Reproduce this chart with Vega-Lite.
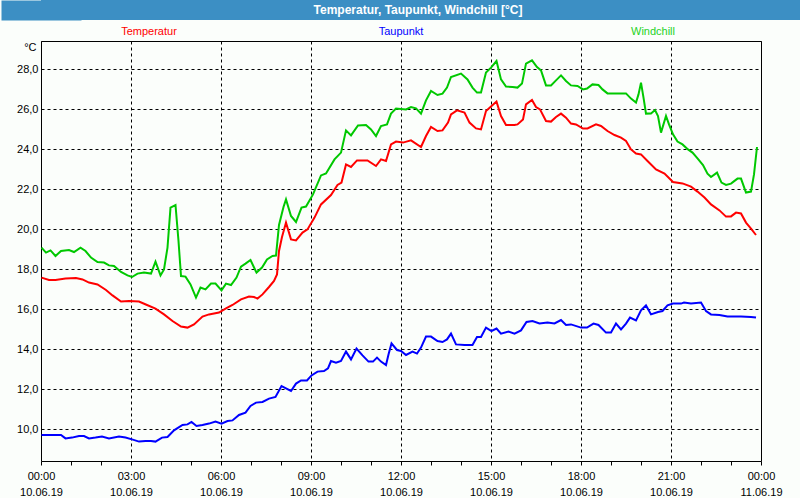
{
  "$schema": "https://vega.github.io/schema/vega-lite/v6.json",
  "padding": 0,
  "background": "#fbfefb",
  "spacing": 0,
  "config": {"font": "Liberation Sans"},
  "datasets": {
    "temperatur": [
      {"t":"2019-06-10T00:01","v":17.57},{"t":"2019-06-10T00:16","v":17.45},{"t":"2019-06-10T00:29","v":17.45},{"t":"2019-06-10T00:49","v":17.53},
      {"t":"2019-06-10T01:10","v":17.55},{"t":"2019-06-10T01:23","v":17.48},{"t":"2019-06-10T01:36","v":17.32},{"t":"2019-06-10T01:53","v":17.23},
      {"t":"2019-06-10T02:10","v":16.95},{"t":"2019-06-10T02:23","v":16.68},{"t":"2019-06-10T02:40","v":16.37},{"t":"2019-06-10T02:56","v":16.4},
      {"t":"2019-06-10T03:16","v":16.37},{"t":"2019-06-10T03:32","v":16.2},{"t":"2019-06-10T03:49","v":16.02},{"t":"2019-06-10T04:06","v":15.73},
      {"t":"2019-06-10T04:23","v":15.4},{"t":"2019-06-10T04:40","v":15.12},{"t":"2019-06-10T04:53","v":15.07},{"t":"2019-06-10T05:06","v":15.23},
      {"t":"2019-06-10T05:23","v":15.62},{"t":"2019-06-10T05:36","v":15.73},{"t":"2019-06-10T05:56","v":15.82},{"t":"2019-06-10T06:10","v":16.03},
      {"t":"2019-06-10T06:23","v":16.2},{"t":"2019-06-10T06:40","v":16.48},{"t":"2019-06-10T06:56","v":16.62},{"t":"2019-06-10T07:06","v":16.6},
      {"t":"2019-06-10T07:13","v":16.52},{"t":"2019-06-10T07:23","v":16.73},{"t":"2019-06-10T07:36","v":17.1},{"t":"2019-06-10T07:46","v":17.4},
      {"t":"2019-06-10T07:52","v":17.73},{"t":"2019-06-10T07:56","v":18.9},{"t":"2019-06-10T08:02","v":19.6},{"t":"2019-06-10T08:10","v":20.32},
      {"t":"2019-06-10T08:20","v":19.48},{"t":"2019-06-10T08:30","v":19.43},{"t":"2019-06-10T08:43","v":19.82},{"t":"2019-06-10T08:53","v":19.98},
      {"t":"2019-06-10T09:07","v":20.57},{"t":"2019-06-10T09:20","v":21.23},{"t":"2019-06-10T09:40","v":21.7},{"t":"2019-06-10T09:53","v":22.2},
      {"t":"2019-06-10T10:01","v":22.32},{"t":"2019-06-10T10:10","v":23.23},{"t":"2019-06-10T10:20","v":23.1},{"t":"2019-06-10T10:32","v":23.43},
      {"t":"2019-06-10T10:53","v":23.43},{"t":"2019-06-10T11:10","v":23.15},{"t":"2019-06-10T11:20","v":23.48},{"t":"2019-06-10T11:30","v":23.4},
      {"t":"2019-06-10T11:40","v":24.23},{"t":"2019-06-10T11:50","v":24.37},{"t":"2019-06-10T12:04","v":24.32},{"t":"2019-06-10T12:20","v":24.43},
      {"t":"2019-06-10T12:40","v":24.1},{"t":"2019-06-10T12:50","v":24.65},{"t":"2019-06-10T13:00","v":25.1},{"t":"2019-06-10T13:13","v":24.9},
      {"t":"2019-06-10T13:23","v":24.93},{"t":"2019-06-10T13:34","v":25.32},{"t":"2019-06-10T13:40","v":25.73},{"t":"2019-06-10T13:52","v":25.93},
      {"t":"2019-06-10T14:07","v":25.82},{"t":"2019-06-10T14:17","v":25.32},{"t":"2019-06-10T14:30","v":25.03},{"t":"2019-06-10T14:40","v":24.98},
      {"t":"2019-06-10T14:50","v":25.9},{"t":"2019-06-10T15:00","v":26.12},{"t":"2019-06-10T15:11","v":26.37},{"t":"2019-06-10T15:20","v":25.65},
      {"t":"2019-06-10T15:30","v":25.2},{"t":"2019-06-10T15:47","v":25.2},{"t":"2019-06-10T15:53","v":25.23},{"t":"2019-06-10T16:04","v":25.48},
      {"t":"2019-06-10T16:10","v":26.23},{"t":"2019-06-10T16:22","v":26.45},{"t":"2019-06-10T16:30","v":26.1},{"t":"2019-06-10T16:38","v":25.98},
      {"t":"2019-06-10T16:50","v":25.4},{"t":"2019-06-10T17:00","v":25.37},{"t":"2019-06-10T17:10","v":25.6},{"t":"2019-06-10T17:20","v":25.77},
      {"t":"2019-06-10T17:30","v":25.57},{"t":"2019-06-10T17:40","v":25.27},{"t":"2019-06-10T17:50","v":25.23},{"t":"2019-06-10T18:04","v":25.02},
      {"t":"2019-06-10T18:13","v":25.03},{"t":"2019-06-10T18:30","v":25.23},{"t":"2019-06-10T18:40","v":25.15},{"t":"2019-06-10T18:53","v":24.9},
      {"t":"2019-06-10T19:07","v":24.7},{"t":"2019-06-10T19:20","v":24.57},{"t":"2019-06-10T19:30","v":24.4},{"t":"2019-06-10T19:40","v":23.98},
      {"t":"2019-06-10T19:50","v":23.77},{"t":"2019-06-10T20:00","v":23.73},{"t":"2019-06-10T20:13","v":23.4},{"t":"2019-06-10T20:30","v":22.98},
      {"t":"2019-06-10T20:47","v":22.77},{"t":"2019-06-10T21:04","v":22.35},{"t":"2019-06-10T21:23","v":22.28},{"t":"2019-06-10T21:40","v":22.12},
      {"t":"2019-06-10T21:53","v":21.87},{"t":"2019-06-10T22:07","v":21.57},{"t":"2019-06-10T22:20","v":21.23},{"t":"2019-06-10T22:37","v":20.93},
      {"t":"2019-06-10T22:50","v":20.62},{"t":"2019-06-10T23:00","v":20.63},{"t":"2019-06-10T23:10","v":20.82},{"t":"2019-06-10T23:20","v":20.78},
      {"t":"2019-06-10T23:30","v":20.32},{"t":"2019-06-10T23:40","v":20.02},{"t":"2019-06-10T23:50","v":19.7}
    ],
    "windchill": [
      {"t":"2019-06-10T00:01","v":19.07},{"t":"2019-06-10T00:10","v":18.82},{"t":"2019-06-10T00:19","v":18.93},{"t":"2019-06-10T00:29","v":18.65},
      {"t":"2019-06-10T00:40","v":18.9},{"t":"2019-06-10T00:56","v":18.95},{"t":"2019-06-10T01:06","v":18.85},{"t":"2019-06-10T01:19","v":19.07},
      {"t":"2019-06-10T01:29","v":18.9},{"t":"2019-06-10T01:40","v":18.57},{"t":"2019-06-10T01:53","v":18.35},{"t":"2019-06-10T02:06","v":18.32},
      {"t":"2019-06-10T02:16","v":18.18},{"t":"2019-06-10T02:26","v":18.15},{"t":"2019-06-10T02:40","v":17.85},{"t":"2019-06-10T02:53","v":17.68},
      {"t":"2019-06-10T03:02","v":17.6},{"t":"2019-06-10T03:13","v":17.77},{"t":"2019-06-10T03:26","v":17.82},{"t":"2019-06-10T03:40","v":17.77},
      {"t":"2019-06-10T03:49","v":18.37},{"t":"2019-06-10T03:59","v":17.68},{"t":"2019-06-10T04:06","v":17.98},{"t":"2019-06-10T04:13","v":19.07},
      {"t":"2019-06-10T04:19","v":21.07},{"t":"2019-06-10T04:29","v":21.2},{"t":"2019-06-10T04:35","v":19.4},{"t":"2019-06-10T04:40","v":17.65},
      {"t":"2019-06-10T04:49","v":17.62},{"t":"2019-06-10T04:59","v":17.23},{"t":"2019-06-10T05:10","v":16.57},{"t":"2019-06-10T05:19","v":17.07},
      {"t":"2019-06-10T05:29","v":16.98},{"t":"2019-06-10T05:40","v":17.27},{"t":"2019-06-10T05:49","v":17.27},{"t":"2019-06-10T06:01","v":16.93},
      {"t":"2019-06-10T06:10","v":17.27},{"t":"2019-06-10T06:20","v":17.2},{"t":"2019-06-10T06:31","v":17.57},{"t":"2019-06-10T06:40","v":18.12},
      {"t":"2019-06-10T06:49","v":18.27},{"t":"2019-06-10T06:59","v":18.45},{"t":"2019-06-10T07:11","v":17.82},{"t":"2019-06-10T07:22","v":18.07},
      {"t":"2019-06-10T07:32","v":18.48},{"t":"2019-06-10T07:43","v":18.65},{"t":"2019-06-10T07:50","v":18.67},{"t":"2019-06-10T07:56","v":20.2},
      {"t":"2019-06-10T08:05","v":21.1},{"t":"2019-06-10T08:10","v":21.48},{"t":"2019-06-10T08:20","v":20.65},{"t":"2019-06-10T08:30","v":20.35},
      {"t":"2019-06-10T08:41","v":21.07},{"t":"2019-06-10T08:50","v":21.12},{"t":"2019-06-10T09:04","v":21.73},{"t":"2019-06-10T09:20","v":22.68},
      {"t":"2019-06-10T09:30","v":22.78},{"t":"2019-06-10T09:47","v":23.48},{"t":"2019-06-10T10:00","v":23.82},{"t":"2019-06-10T10:10","v":24.93},
      {"t":"2019-06-10T10:20","v":24.68},{"t":"2019-06-10T10:34","v":25.18},{"t":"2019-06-10T10:50","v":25.2},{"t":"2019-06-10T11:00","v":24.98},
      {"t":"2019-06-10T11:10","v":24.65},{"t":"2019-06-10T11:20","v":25.15},{"t":"2019-06-10T11:32","v":25.23},{"t":"2019-06-10T11:40","v":25.77},
      {"t":"2019-06-10T11:50","v":26.02},{"t":"2019-06-10T12:10","v":25.98},{"t":"2019-06-10T12:20","v":26.1},{"t":"2019-06-10T12:30","v":26.03},
      {"t":"2019-06-10T12:40","v":25.77},{"t":"2019-06-10T12:50","v":26.43},{"t":"2019-06-10T13:00","v":26.9},{"t":"2019-06-10T13:13","v":26.7},
      {"t":"2019-06-10T13:23","v":26.77},{"t":"2019-06-10T13:32","v":27.07},{"t":"2019-06-10T13:40","v":27.6},{"t":"2019-06-10T14:00","v":27.77},
      {"t":"2019-06-10T14:13","v":27.48},{"t":"2019-06-10T14:23","v":27.07},{"t":"2019-06-10T14:32","v":26.82},{"t":"2019-06-10T14:40","v":26.82},
      {"t":"2019-06-10T14:50","v":27.82},{"t":"2019-06-10T15:00","v":28.07},{"t":"2019-06-10T15:11","v":28.4},{"t":"2019-06-10T15:20","v":27.48},
      {"t":"2019-06-10T15:30","v":27.12},{"t":"2019-06-10T15:43","v":27.1},{"t":"2019-06-10T15:53","v":27.07},{"t":"2019-06-10T16:02","v":27.27},
      {"t":"2019-06-10T16:10","v":28.27},{"t":"2019-06-10T16:22","v":28.43},{"t":"2019-06-10T16:32","v":28.1},{"t":"2019-06-10T16:40","v":27.93},
      {"t":"2019-06-10T16:50","v":27.18},{"t":"2019-06-10T17:00","v":27.18},{"t":"2019-06-10T17:10","v":27.43},{"t":"2019-06-10T17:20","v":27.68},
      {"t":"2019-06-10T17:30","v":27.4},{"t":"2019-06-10T17:40","v":27.18},{"t":"2019-06-10T17:53","v":27.15},{"t":"2019-06-10T18:04","v":26.98},
      {"t":"2019-06-10T18:12","v":27.02},{"t":"2019-06-10T18:23","v":27.23},{"t":"2019-06-10T18:35","v":27.2},{"t":"2019-06-10T18:43","v":26.98},
      {"t":"2019-06-10T18:53","v":26.78},{"t":"2019-06-10T19:13","v":26.78},{"t":"2019-06-10T19:30","v":26.78},{"t":"2019-06-10T19:40","v":26.52},
      {"t":"2019-06-10T19:50","v":26.32},{"t":"2019-06-10T19:55","v":26.73},{"t":"2019-06-10T20:00","v":27.32},{"t":"2019-06-10T20:05","v":26.57},
      {"t":"2019-06-10T20:10","v":25.77},{"t":"2019-06-10T20:20","v":25.78},{"t":"2019-06-10T20:28","v":25.95},{"t":"2019-06-10T20:34","v":25.65},
      {"t":"2019-06-10T20:40","v":24.82},{"t":"2019-06-10T20:50","v":25.65},{"t":"2019-06-10T20:56","v":25.23},{"t":"2019-06-10T21:04","v":24.73},
      {"t":"2019-06-10T21:13","v":24.37},{"t":"2019-06-10T21:23","v":24.23},{"t":"2019-06-10T21:34","v":23.98},{"t":"2019-06-10T21:43","v":23.82},
      {"t":"2019-06-10T21:53","v":23.53},{"t":"2019-06-10T22:04","v":23.2},{"t":"2019-06-10T22:13","v":22.77},{"t":"2019-06-10T22:20","v":22.6},
      {"t":"2019-06-10T22:32","v":22.82},{"t":"2019-06-10T22:41","v":22.32},{"t":"2019-06-10T22:50","v":22.2},{"t":"2019-06-10T23:00","v":22.27},
      {"t":"2019-06-10T23:13","v":22.52},{"t":"2019-06-10T23:20","v":22.52},{"t":"2019-06-10T23:30","v":21.82},{"t":"2019-06-10T23:40","v":21.87},
      {"t":"2019-06-10T23:46","v":22.73},{"t":"2019-06-10T23:52","v":24.1}
    ],
    "taupunkt": [
      {"t":"2019-06-10T00:01","v":9.7},{"t":"2019-06-10T00:40","v":9.7},{"t":"2019-06-10T00:49","v":9.53},{"t":"2019-06-10T01:02","v":9.57},
      {"t":"2019-06-10T01:16","v":9.65},{"t":"2019-06-10T01:26","v":9.65},{"t":"2019-06-10T01:36","v":9.53},{"t":"2019-06-10T01:49","v":9.57},
      {"t":"2019-06-10T02:02","v":9.62},{"t":"2019-06-10T02:16","v":9.53},{"t":"2019-06-10T02:36","v":9.62},{"t":"2019-06-10T02:49","v":9.57},
      {"t":"2019-06-10T03:02","v":9.48},{"t":"2019-06-10T03:16","v":9.37},{"t":"2019-06-10T03:29","v":9.4},{"t":"2019-06-10T03:40","v":9.4},
      {"t":"2019-06-10T03:49","v":9.37},{"t":"2019-06-10T04:02","v":9.57},{"t":"2019-06-10T04:13","v":9.6},{"t":"2019-06-10T04:26","v":9.93},
      {"t":"2019-06-10T04:43","v":10.2},{"t":"2019-06-10T04:53","v":10.23},{"t":"2019-06-10T05:01","v":10.35},{"t":"2019-06-10T05:11","v":10.15},
      {"t":"2019-06-10T05:23","v":10.2},{"t":"2019-06-10T05:36","v":10.27},{"t":"2019-06-10T05:49","v":10.37},{"t":"2019-06-10T06:01","v":10.27},
      {"t":"2019-06-10T06:13","v":10.4},{"t":"2019-06-10T06:23","v":10.43},{"t":"2019-06-10T06:36","v":10.7},{"t":"2019-06-10T06:49","v":10.82},
      {"t":"2019-06-10T06:59","v":11.15},{"t":"2019-06-10T07:10","v":11.32},{"t":"2019-06-10T07:23","v":11.35},{"t":"2019-06-10T07:36","v":11.52},
      {"t":"2019-06-10T07:49","v":11.6},{"t":"2019-06-10T08:01","v":12.15},{"t":"2019-06-10T08:10","v":12.03},{"t":"2019-06-10T08:20","v":11.9},
      {"t":"2019-06-10T08:30","v":12.27},{"t":"2019-06-10T08:40","v":12.43},{"t":"2019-06-10T08:52","v":12.43},{"t":"2019-06-10T09:01","v":12.68},
      {"t":"2019-06-10T09:13","v":12.87},{"t":"2019-06-10T09:26","v":12.9},{"t":"2019-06-10T09:34","v":13.03},{"t":"2019-06-10T09:40","v":13.4},
      {"t":"2019-06-10T09:50","v":13.32},{"t":"2019-06-10T10:00","v":13.4},{"t":"2019-06-10T10:10","v":13.87},{"t":"2019-06-10T10:20","v":13.48},
      {"t":"2019-06-10T10:31","v":14.02},{"t":"2019-06-10T10:43","v":13.68},{"t":"2019-06-10T10:55","v":13.37},{"t":"2019-06-10T11:04","v":13.37},
      {"t":"2019-06-10T11:12","v":13.57},{"t":"2019-06-10T11:20","v":13.37},{"t":"2019-06-10T11:30","v":13.2},{"t":"2019-06-10T11:35","v":13.73},
      {"t":"2019-06-10T11:41","v":14.28},{"t":"2019-06-10T11:52","v":13.95},{"t":"2019-06-10T12:00","v":13.9},{"t":"2019-06-10T12:10","v":13.7},
      {"t":"2019-06-10T12:23","v":13.87},{"t":"2019-06-10T12:32","v":13.77},{"t":"2019-06-10T12:40","v":14.07},{"t":"2019-06-10T12:50","v":14.62},
      {"t":"2019-06-10T13:00","v":14.62},{"t":"2019-06-10T13:13","v":14.4},{"t":"2019-06-10T13:23","v":14.35},{"t":"2019-06-10T13:32","v":14.48},
      {"t":"2019-06-10T13:40","v":14.77},{"t":"2019-06-10T13:50","v":14.23},{"t":"2019-06-10T14:07","v":14.2},{"t":"2019-06-10T14:23","v":14.2},
      {"t":"2019-06-10T14:32","v":14.6},{"t":"2019-06-10T14:40","v":14.6},{"t":"2019-06-10T14:50","v":15.07},{"t":"2019-06-10T15:01","v":14.9},
      {"t":"2019-06-10T15:11","v":15.02},{"t":"2019-06-10T15:20","v":14.77},{"t":"2019-06-10T15:35","v":14.87},{"t":"2019-06-10T15:47","v":14.77},
      {"t":"2019-06-10T16:00","v":14.93},{"t":"2019-06-10T16:11","v":15.35},{"t":"2019-06-10T16:23","v":15.4},{"t":"2019-06-10T16:37","v":15.28},
      {"t":"2019-06-10T16:53","v":15.32},{"t":"2019-06-10T17:07","v":15.28},{"t":"2019-06-10T17:20","v":15.45},{"t":"2019-06-10T17:30","v":15.2},
      {"t":"2019-06-10T17:40","v":15.23},{"t":"2019-06-10T18:00","v":15.07},{"t":"2019-06-10T18:12","v":15.07},{"t":"2019-06-10T18:25","v":15.27},
      {"t":"2019-06-10T18:35","v":15.2},{"t":"2019-06-10T18:50","v":14.82},{"t":"2019-06-10T19:00","v":14.82},{"t":"2019-06-10T19:10","v":15.27},
      {"t":"2019-06-10T19:20","v":14.98},{"t":"2019-06-10T19:30","v":15.27},{"t":"2019-06-10T19:38","v":15.57},{"t":"2019-06-10T19:50","v":15.43},
      {"t":"2019-06-10T20:00","v":15.93},{"t":"2019-06-10T20:10","v":16.18},{"t":"2019-06-10T20:20","v":15.73},{"t":"2019-06-10T20:34","v":15.85},
      {"t":"2019-06-10T20:43","v":15.9},{"t":"2019-06-10T20:53","v":16.18},{"t":"2019-06-10T21:04","v":16.27},{"t":"2019-06-10T21:20","v":16.27},
      {"t":"2019-06-10T21:26","v":16.32},{"t":"2019-06-10T21:40","v":16.27},{"t":"2019-06-10T22:00","v":16.32},{"t":"2019-06-10T22:10","v":15.9},
      {"t":"2019-06-10T22:20","v":15.73},{"t":"2019-06-10T22:37","v":15.7},{"t":"2019-06-10T22:53","v":15.62},{"t":"2019-06-10T23:20","v":15.62},
      {"t":"2019-06-10T23:40","v":15.6},{"t":"2019-06-10T23:50","v":15.57}
    ]
  },
  "vconcat": [
    {
      "width": 760,
      "height": 20,
      "view": {"fill": "#3c8fc4", "stroke": null},
      "data": {"values": [{"label": "Temperatur, Taupunkt, Windchill [°C]"}]},
      "mark": {"type": "text", "color": "#ffffff", "fontWeight": "bold", "fontSize": 12, "dx": -3},
      "encoding": {
        "text": {"field": "label"},
        "y": {
          "datum": 0, "type": "quantitative",
          "scale": {"domain": [-1, 1]},
          "axis": {
            "title": null, "labels": false, "ticks": false, "grid": false,
            "domain": true, "domainColor": "#3c8fc4", "domainWidth": 80, "offset": 0, "minExtent": 40, "maxExtent": 40
          }
        }
      }
    },
    {
      "width": 720,
      "height": 20,
      "view": {"stroke": null},
      "data": {"values": [{"name": "Temperatur"}, {"name": "Taupunkt"}, {"name": "Windchill"}]},
      "mark": {"type": "text", "fontSize": 11, "dy": 2},
      "encoding": {
        "x": {"field": "name", "type": "nominal", "sort": null, "axis": null, "scale": {"type": "point", "padding": 0.4286}},
        "text": {"field": "name"},
        "color": {"field": "name", "type": "nominal", "legend": null, "scale": {"domain": ["Temperatur", "Taupunkt", "Windchill"], "range": ["#ff0000", "#0000ff", "#1ed21e"]}}
      }
    },
    {
      "width": 720,
      "height": 420,
      "view": {"stroke": "#000000", "strokeWidth": 1},
      "resolve": {"axis": {"x": "independent"}},
      "encoding": {
        "y": {
          "field": "v", "type": "quantitative",
          "scale": {"domain": [8.4, 29.4], "nice": false, "zero": false},
          "axis": {
            "title": "°C", "titleAngle": 0, "titleX": -5, "titleY": 6, "titleAlign": "right", "titleBaseline": "middle",
            "titleFontWeight": "normal", "titleFontSize": 11, "titleColor": "#000000",
            "values": [10, 12, 14, 16, 18, 20, 22, 24, 26, 28],
            "gridColor": "#000000", "gridDash": [3, 3],
            "domain": false, "ticks": false, "labelPadding": 3,
            "labelExpr": "replace(format(datum.value, '.1f'), '.', ',')",
            "labelFontSize": 11, "labelColor": "#000000", "minExtent": 40
          }
        }
      },
      "layer": [
        {
          "data": {"name": "taupunkt"},
          "mark": {"type": "line", "color": "#0000ff", "strokeWidth": 2},
          "encoding": {
            "x": {
              "field": "t", "type": "temporal",
              "scale": {"domain": [{"year": 2019, "month": 6, "date": 10, "hours": 0}, {"year": 2019, "month": 6, "date": 11, "hours": 0}]},
              "axis": {
                "orient": "bottom", "title": null, "domain": false, "grid": true,
                "gridColor": "#000000", "gridDash": [3, 3],
                "values": [
                  {"year": 2019, "month": 6, "date": 10, "hours": 0}, {"year": 2019, "month": 6, "date": 10, "hours": 3},
                  {"year": 2019, "month": 6, "date": 10, "hours": 6}, {"year": 2019, "month": 6, "date": 10, "hours": 9},
                  {"year": 2019, "month": 6, "date": 10, "hours": 12}, {"year": 2019, "month": 6, "date": 10, "hours": 15},
                  {"year": 2019, "month": 6, "date": 10, "hours": 18}, {"year": 2019, "month": 6, "date": 10, "hours": 21},
                  {"year": 2019, "month": 6, "date": 11, "hours": 0}
                ],
                "format": "%H:%M", "ticks": false,
                "labelFlush": false, "labelPadding": 9,
                "labelFontSize": 11, "labelColor": "#000000"
              }
            }
          }
        },
        {
          "data": {"name": "temperatur"},
          "mark": {"type": "line", "color": "#ff0000", "strokeWidth": 2},
          "encoding": {
            "x": {
              "field": "t", "type": "temporal",
              "scale": {"domain": [{"year": 2019, "month": 6, "date": 10, "hours": 0}, {"year": 2019, "month": 6, "date": 11, "hours": 0}]},
              "axis": {
                "orient": "bottom", "title": null, "domain": false, "grid": false,
                "values": [
                  {"year": 2019, "month": 6, "date": 10, "hours": 0}, {"year": 2019, "month": 6, "date": 10, "hours": 3},
                  {"year": 2019, "month": 6, "date": 10, "hours": 6}, {"year": 2019, "month": 6, "date": 10, "hours": 9},
                  {"year": 2019, "month": 6, "date": 10, "hours": 12}, {"year": 2019, "month": 6, "date": 10, "hours": 15},
                  {"year": 2019, "month": 6, "date": 10, "hours": 18}, {"year": 2019, "month": 6, "date": 10, "hours": 21},
                  {"year": 2019, "month": 6, "date": 11, "hours": 0}
                ],
                "format": "%d.%m.%y", "ticks": false,
                "labelFlush": false, "labelPadding": 25,
                "labelFontSize": 11, "labelColor": "#000000"
              }
            }
          }
        },
        {
          "data": {"name": "windchill"},
          "mark": {"type": "line", "color": "#00c800", "strokeWidth": 2},
          "encoding": {
            "x": {
              "field": "t", "type": "temporal",
              "scale": {"domain": [{"year": 2019, "month": 6, "date": 10, "hours": 0}, {"year": 2019, "month": 6, "date": 11, "hours": 0}]},
              "axis": {
                "orient": "bottom", "title": null, "domain": false, "grid": false, "labels": false,
                "ticks": true, "tickSize": 4, "tickColor": "#000000",
                "values": [
                  {"year": 2019, "month": 6, "date": 10, "hours": 0}, {"year": 2019, "month": 6, "date": 10, "hours": 1},
                  {"year": 2019, "month": 6, "date": 10, "hours": 2}, {"year": 2019, "month": 6, "date": 10, "hours": 3},
                  {"year": 2019, "month": 6, "date": 10, "hours": 4}, {"year": 2019, "month": 6, "date": 10, "hours": 5},
                  {"year": 2019, "month": 6, "date": 10, "hours": 6}, {"year": 2019, "month": 6, "date": 10, "hours": 7},
                  {"year": 2019, "month": 6, "date": 10, "hours": 8}, {"year": 2019, "month": 6, "date": 10, "hours": 9},
                  {"year": 2019, "month": 6, "date": 10, "hours": 10}, {"year": 2019, "month": 6, "date": 10, "hours": 11},
                  {"year": 2019, "month": 6, "date": 10, "hours": 12}, {"year": 2019, "month": 6, "date": 10, "hours": 13},
                  {"year": 2019, "month": 6, "date": 10, "hours": 14}, {"year": 2019, "month": 6, "date": 10, "hours": 15},
                  {"year": 2019, "month": 6, "date": 10, "hours": 16}, {"year": 2019, "month": 6, "date": 10, "hours": 17},
                  {"year": 2019, "month": 6, "date": 10, "hours": 18}, {"year": 2019, "month": 6, "date": 10, "hours": 19},
                  {"year": 2019, "month": 6, "date": 10, "hours": 20}, {"year": 2019, "month": 6, "date": 10, "hours": 21},
                  {"year": 2019, "month": 6, "date": 10, "hours": 22}, {"year": 2019, "month": 6, "date": 10, "hours": 23},
                  {"year": 2019, "month": 6, "date": 11, "hours": 0}
                ]
              }
            }
          }
        }
      ]
    }
  ]
}
